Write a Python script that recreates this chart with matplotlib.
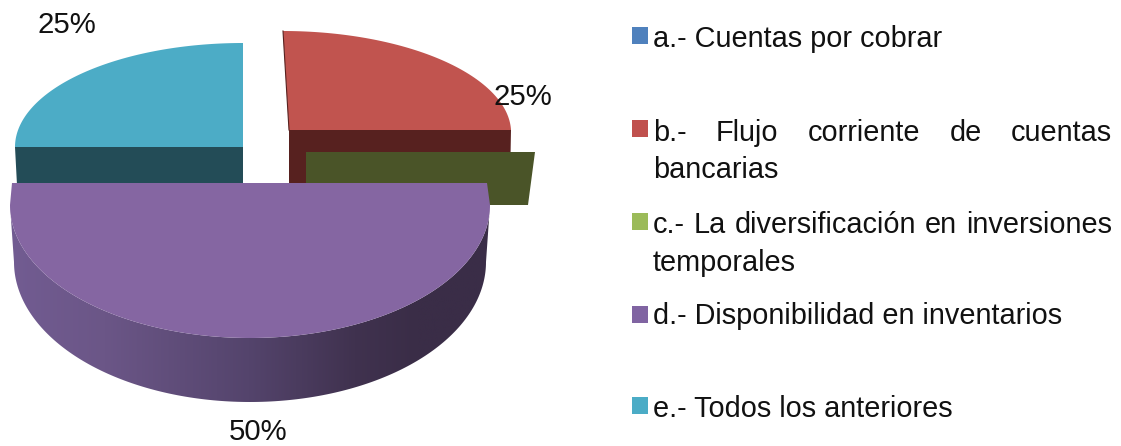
import numpy as np
import matplotlib
matplotlib.use("Agg")
import matplotlib.pyplot as plt
from matplotlib.patches import Polygon, Rectangle
from matplotlib.colors import LinearSegmentedColormap

# data
categories = ["a", "b", "c", "d", "e"]
values = [0, 25, 0, 50, 25]
top_colors = ["#4F81BD", "#C1544F", "#9BBB59", "#8566A2", "#4CACC6"]
face_colors = ["#2A4563", "#57211F", "#4A5428", "#3A2D47", "#234C57"]
legend_colors = ["#4F81BD", "#C0504D", "#9BBB59", "#8064A2", "#4BACC6"]
legend_lines = [
    [("a.- Cuentas por cobrar", False)],
    [("b.- Flujo corriente de cuentas", True), ("bancarias", False)],
    [("c.- La diversificación en inversiones", True), ("temporales", False)],
    [("d.- Disponibilidad en inventarios", False)],
    [("e.- Todos los anteriores", False)],
]

# layout (pixel space of the picture)
W, H = 1121, 446
FONT = "Liberation Sans"
FS = 20.8
geom = {
    "b": dict(cx=289, cy=130, rx=222, ry=99, skew=-6, depth=53),
    "c": dict(cx=306, cy=152, rx=229, ry=99, skew=0, depth=53),
    "d": dict(cx=250, cy=205, rx=240, ry=133, skew=0),
    "d_low": dict(cx=250, cy=262, rx=236, ry=140, skew=0),
    "e": dict(cx=243, cy=147, rx=228, ry=104, skew=0, depth=38),
}
label_pos = {"b": (523, 97), "d": (258, 432), "e": (67, 25)}
legend_x_square = 632
legend_x_text = 653
legend_x_right = 1112
legend_y = [[36], [130, 167], [222, 260], [313], [406]]
square_y = [35, 128, 221, 314, 405]

fig = plt.figure(figsize=(W / 100, H / 100), dpi=100)
ax = fig.add_axes([0, 0, 1, 1])


def rim(g, th):
    t = np.radians(th)
    return (g["cx"] + g["rx"] * np.sin(t) + g["skew"] * np.cos(t),
            g["cy"] - g["ry"] * np.cos(t))


# angles clockwise from 12 o'clock
edges = np.concatenate([[0], np.cumsum(values)]) / sum(values) * 360
spans = {c: (edges[i], edges[i + 1]) for i, c in enumerate(categories)}

# teal back slice (e)
g = geom["e"]
t1, t2 = spans["e"]
ax.add_patch(Polygon([(g["cx"], g["cy"]), (g["cx"], g["cy"] + g["depth"]),
                      (g["cx"] - g["rx"] + 2, g["cy"] + g["depth"]),
                      (g["cx"] - g["rx"], g["cy"])],
                     fc=face_colors[4], ec="none", zorder=1))
th = np.linspace(t1, t2, 80)
x, y = rim(g, th)
ax.add_patch(Polygon(np.r_[[[g["cx"], g["cy"]]], np.c_[x, y]], fc=top_colors[4],
                     ec="none", zorder=2))

# red slice (b)
g = geom["b"]
t1, t2 = spans["b"]
ax.add_patch(Polygon([(g["cx"], g["cy"]), (g["cx"], g["cy"] + g["depth"]),
                      (g["cx"] + g["rx"] - 1, g["cy"] + g["depth"]),
                      (g["cx"] + g["rx"], g["cy"])],
                     fc=face_colors[1], ec="none", zorder=3))
th = np.linspace(t1, t2, 80)
x, y = rim(g, th)
ax.add_patch(Polygon(np.r_[[[g["cx"], g["cy"]]], np.c_[x, y]], fc=top_colors[1],
                     ec="none", zorder=4))
ax.plot([x[0], g["cx"]], [y[0], g["cy"]], color=face_colors[1], lw=0.8, zorder=4)

# zero-width slice (c): only its radial face is visible
g = geom["c"]
ax.add_patch(Polygon([(g["cx"], g["cy"]), (g["cx"] + g["rx"], g["cy"]),
                      (g["cx"] + g["rx"] - 7, g["cy"] + g["depth"]),
                      (g["cx"], g["cy"] + g["depth"])],
                     fc=face_colors[2], ec="none", zorder=5))

# purple slice (d): side with a left-to-right shade, then its top
g, gl = geom["d"], geom["d_low"]
t1, t2 = spans["d"]
th = np.linspace(t1, t2, 181)
xt, yt = rim(g, th)
xb, yb = rim(gl, th)
side = Polygon(np.r_[np.c_[xt, yt], np.c_[xb, yb][::-1]], fc="none", ec="none",
               transform=ax.transData)
ax.add_patch(side)
cmap = LinearSegmentedColormap.from_list(
    "side", [(0.0, "#725C92"), (0.2, "#6B5687"), (0.5, "#54446C"),
             (0.72, "#40324F"), (0.85, "#3A2D47"), (1.0, "#3A2D47")])
img = ax.imshow(np.linspace(0, 1, 256)[None, :], cmap=cmap, aspect="auto",
                extent=(gl["cx"] - gl["rx"] - 6, gl["cx"] + g["rx"], 410, 190), zorder=6)
img.set_clip_path(side)
top_y = 183
pts = np.r_[[[g["cx"] + g["rx"] - 3, top_y]], np.c_[xt, yt], [[g["cx"] - g["rx"] + 2, top_y]]]
ax.add_patch(Polygon(pts, fc=top_colors[3], ec="none", zorder=7))

ax.set_xlim(0, W)
ax.set_ylim(H, 0)
ax.axis("off")

# percent labels
for c, v in zip(categories, values):
    if v > 0:
        ax.text(*label_pos[c], f"{v}%", family=FONT, fontsize=FS + 0.4, color="#111111",
                ha="center", va="center", zorder=10)

# legend
renderer = fig.canvas.get_renderer()


def width_of(s):
    t = ax.text(0, 0, s, family=FONT, fontsize=FS)
    w = t.get_window_extent(renderer).width
    t.remove()
    return w


for col, lines, ys, sy in zip(legend_colors, legend_lines, legend_y, square_y):
    ax.add_patch(Rectangle((legend_x_square, sy - 8.5), 16, 17, fc=col, ec="none", zorder=10))
    for (s, just), yy in zip(lines, ys):
        if not just:
            ax.text(legend_x_text, yy, s, family=FONT, fontsize=FS, color="#111111",
                    ha="left", va="center_baseline", zorder=10)
        else:
            words = s.split(" ")
            ws = [width_of(w) for w in words]
            gap = (legend_x_right - legend_x_text - sum(ws)) / (len(words) - 1)
            xx = legend_x_text
            for w, wd in zip(words, ws):
                ax.text(xx, yy, w, family=FONT, fontsize=FS, color="#111111",
                        ha="left", va="center_baseline", zorder=10)
                xx += wd + gap

fig.savefig("out.png", dpi=100, facecolor="white")
